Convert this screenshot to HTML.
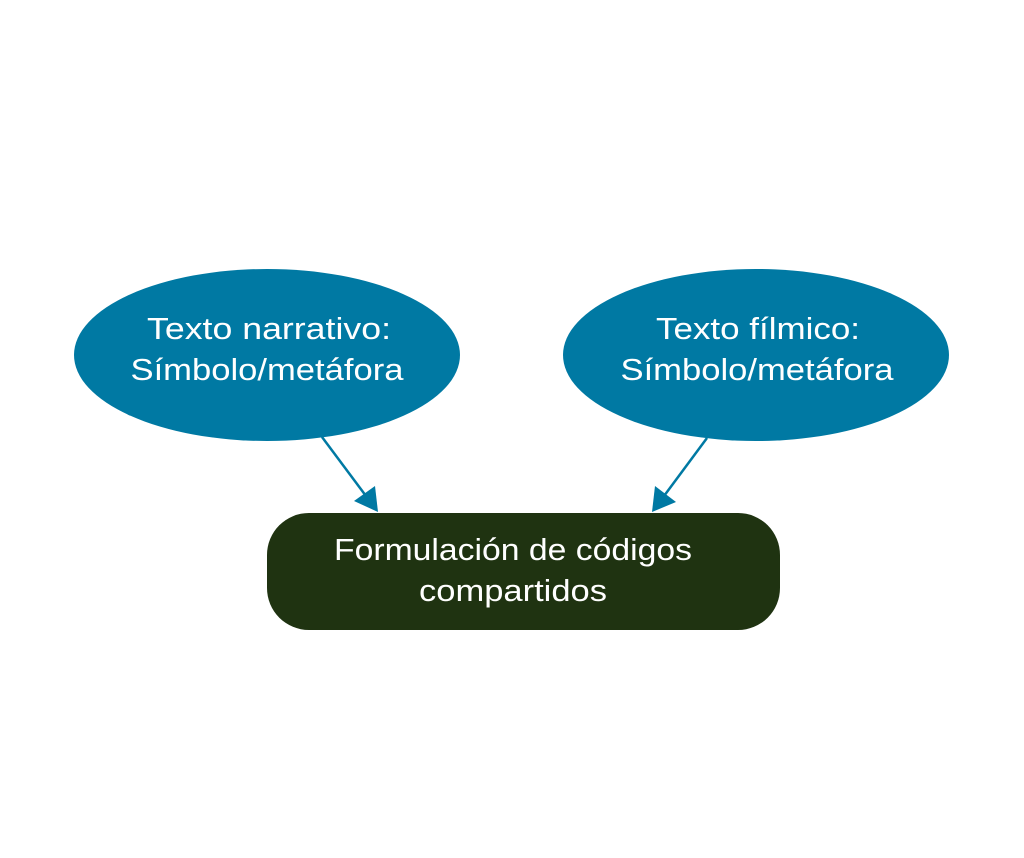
<!DOCTYPE html>
<html><head><meta charset="utf-8"><style>html,body{margin:0;padding:0;background:#fff}svg{display:block}</style></head>
<body>
<svg width="1024" height="858" viewBox="0 0 1024 858" xmlns="http://www.w3.org/2000/svg" font-family="Liberation Sans, sans-serif" fill="#fff">
<ellipse cx="267" cy="355" rx="193" ry="86" fill="#0079A3"/>
<ellipse cx="756" cy="355" rx="193" ry="86" fill="#0079A3"/>
<rect x="267" y="513" width="513" height="117" rx="42" fill="#1F3311"/>
<line x1="322" y1="437" x2="366" y2="496" stroke="#0079A3" stroke-width="2.5"/>
<polygon points="378,512 354,501 375,486" fill="#0079A3"/>
<line x1="707" y1="438" x2="664" y2="496" stroke="#0079A3" stroke-width="2.5"/>
<polygon points="652,512 655,486 676,502" fill="#0079A3"/>
<g font-size="31" fill="#fff" text-anchor="middle">
<text x="269" y="339" textLength="244" lengthAdjust="spacingAndGlyphs">Texto narrativo:</text>
<text x="267" y="380" textLength="273" lengthAdjust="spacingAndGlyphs">Símbolo/metáfora</text>
<text x="758" y="339" textLength="204" lengthAdjust="spacingAndGlyphs">Texto fílmico:</text>
<text x="757" y="380" textLength="273" lengthAdjust="spacingAndGlyphs">Símbolo/metáfora</text>
<text x="513" y="560" textLength="358" lengthAdjust="spacingAndGlyphs">Formulación de códigos</text>
<text x="513" y="601" textLength="188" lengthAdjust="spacingAndGlyphs">compartidos</text>
</g>
</svg>
</body></html>
